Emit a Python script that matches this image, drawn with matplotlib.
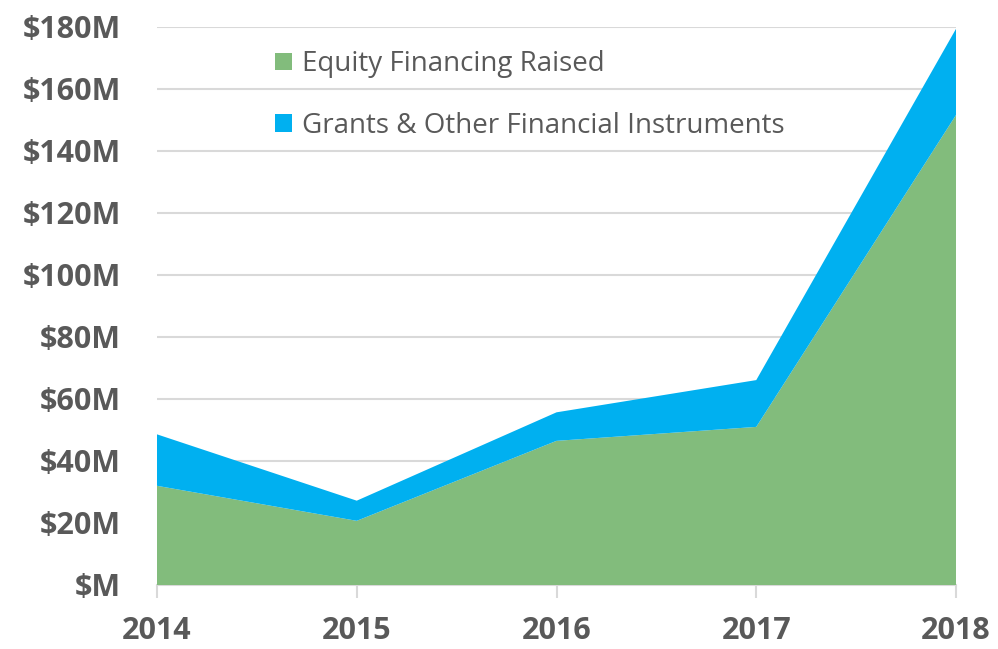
import matplotlib.pyplot as plt
from matplotlib.patches import Patch
from matplotlib.ticker import FuncFormatter

years = [2014, 2015, 2016, 2017, 2018]
equity = [32.0, 20.7, 46.5, 51.0, 151.6]
grants = [16.6, 6.5, 9.2, 15.1, 27.8]
series_names = ["Equity Financing Raised", "Grants & Other Financial Instruments"]

GREEN = "#82bc7c"
BLUE = "#00b0f0"
TEXT = "#595959"
GRID = "#d9d9d9"

plt.rcParams["font.family"] = ["Open Sans", "DejaVu Sans"]

fig = plt.figure(figsize=(9.98, 6.49), dpi=100)
ax = fig.add_axes([157 / 998, 64 / 649, 799 / 998, 558 / 649])

ax.stackplot(years, equity, grants, colors=[GREEN, BLUE], linewidth=0)

ax.set_xlim(2014, 2018)
ax.set_ylim(0, 180)
ax.set_yticks(range(0, 181, 20))
ax.set_xticks(years)
ax.yaxis.set_major_formatter(FuncFormatter(lambda v, _: "$M" if v == 0 else f"${int(v)}M"))

ax.grid(axis="y", color=GRID, linewidth=1.5)
ax.set_axisbelow(True)
for s in ["top", "right", "left"]:
    ax.spines[s].set_visible(False)
ax.spines["bottom"].set_color(GRID)
ax.spines["bottom"].set_linewidth(1.5)
ax.spines["bottom"].set_zorder(0)

ax.tick_params(axis="y", length=0, pad=26, labelsize=22, labelcolor=TEXT)
ax.tick_params(axis="x", length=9, width=1.5, color=GRID, pad=13, labelsize=22, labelcolor=TEXT)
for lab in ax.get_xticklabels() + ax.get_yticklabels():
    lab.set_fontweight("bold")

handles = [Patch(facecolor=GREEN, edgecolor="none"), Patch(facecolor=BLUE, edgecolor="none")]
ax.legend(handles, series_names, loc="upper left", bbox_to_anchor=(0.148, 0.958),
          frameon=False, fontsize=20, labelcolor=TEXT, handlelength=0.6, handleheight=0.6,
          handletextpad=0.35, labelspacing=1.2, borderaxespad=0, borderpad=0)

fig.savefig("out.png", dpi=100)
